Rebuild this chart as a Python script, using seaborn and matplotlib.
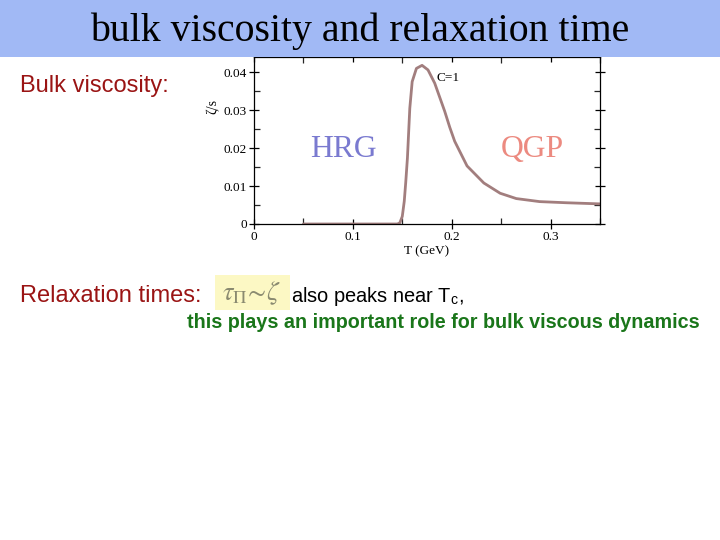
import matplotlib
matplotlib.use("Agg")
import matplotlib.pyplot as plt
from matplotlib.patches import Rectangle
from matplotlib.ticker import MultipleLocator, FixedFormatter, FixedLocator
import seaborn as sns
import pandas as pd

# ---- data ----
temperature = [0.05, 0.10, 0.145, 0.1475, 0.150, 0.152, 0.1535, 0.1552, 0.1576,
               0.160, 0.1643, 0.170, 0.176, 0.1828, 0.1929, 0.198, 0.203,
               0.2155, 0.2325, 0.249, 0.2653, 0.2889, 0.3158, 0.35]
zeta_over_s = [0.0, 0.0, 0.0, 0.0003, 0.002, 0.006, 0.011, 0.0174, 0.0305,
               0.0375, 0.0410, 0.0418, 0.0406, 0.0371, 0.0297, 0.0255, 0.0218,
               0.0153, 0.0108, 0.0081, 0.0067, 0.0059, 0.0056, 0.0053]
x_ticks = [0.0, 0.1, 0.2, 0.3]
x_tick_labels = ["0", "0.1", "0.2", "0.3"]
y_ticks = [0.0, 0.01, 0.02, 0.03, 0.04]
y_tick_labels = ["0", "0.01", "0.02", "0.03", "0.04"]

df = pd.DataFrame({"T": temperature, "zeta_s": zeta_over_s})

sns.set_theme(style="white")
plt.rcParams["font.family"] = ["Liberation Serif", "DejaVu Serif"]
plt.rcParams["mathtext.fontset"] = "stix"

fig = plt.figure(figsize=(7.2, 5.4), dpi=100)
W, H = 720, 540

# axes
ax_left, ax_right, ax_bottom, ax_top = 254, 600, 224, 57
ax = fig.add_axes([ax_left / W, 1 - ax_bottom / H, (ax_right - ax_left) / W,
                   (ax_bottom - ax_top) / H], zorder=1)
ax.patch.set_alpha(0)
sns.lineplot(data=df, x="T", y="zeta_s", ax=ax, color="#A27E7E", linewidth=2.0)
ax.set_xlim(0, 0.35)
ax.set_ylim(0, 0.044)
ax.xaxis.set_major_locator(FixedLocator(x_ticks))
ax.xaxis.set_major_formatter(FixedFormatter(x_tick_labels))
ax.yaxis.set_major_locator(FixedLocator(y_ticks))
ax.yaxis.set_major_formatter(FixedFormatter(y_tick_labels))
ax.xaxis.set_minor_locator(MultipleLocator(0.05))
ax.yaxis.set_minor_locator(MultipleLocator(0.005))
for sp in ax.spines.values():
    sp.set_color("black")
    sp.set_linewidth(0.9)
    sp.set_visible(True)
ax.tick_params(which="major", direction="inout", length=7, width=0.9,
               labelsize=9.5, colors="black", top=True, right=True,
               bottom=True, left=True, pad=1.5)
ax.tick_params(which="minor", direction="in", length=4, width=0.9,
               top=True, right=True, bottom=True, left=True)
ax.set_xlabel("T (GeV)", fontsize=9.5, labelpad=2, color="black")
ax.set_ylabel("")
ax.grid(False)
ax.text(-0.118, 0.705, "ζ/s", transform=ax.transAxes, rotation=90,
        ha="center", va="center", fontsize=10, color="black")
ax.text(0.185, 0.0385, "C=1", fontsize=9.5, color="black", ha="left", va="center")
ax.text(0.0905, 0.0195, "HRG", fontsize=22.8, color="#7A7AD0", ha="center", va="center")
ax.text(0.2815, 0.0195, "QGP", fontsize=22.8, color="#EC8A80", ha="center", va="center")

# title bar drawn above the axes so the top frame is hidden like in the slide
bar_ax = fig.add_axes([0, 1 - 57 / H, 1, 57 / H], zorder=5)
bar_ax.set_axis_off()
bar_ax.add_patch(Rectangle((0, 0), 1, 1, transform=bar_ax.transAxes,
                           facecolor="#A1B9F5", edgecolor="none"))
bar_ax.text(0.5, 0.46, "bulk viscosity and relaxation time",
            ha="center", va="center", fontsize=28.6, color="black",
            transform=bar_ax.transAxes,
            family=["Liberation Serif", "DejaVu Serif"])

sans = ["Liberation Sans", "DejaVu Sans"]
fig.text(20 / W, 1 - 86 / H, "Bulk viscosity:", ha="left", va="center",
         fontsize=17, color="#9A1414", family=sans)
fig.text(20 / W, 1 - 296 / H, "Relaxation times:", ha="left", va="center",
         fontsize=17, color="#9A1414", family=sans)
fig.patches.append(Rectangle((215 / W, 1 - 310 / H), 75 / W, 35 / H,
                             transform=fig.transFigure, facecolor="#FCF8C4",
                             edgecolor="none", zorder=0))
fig.text(252 / W, 1 - 293 / H, r"$\tau_{\Pi}\!\sim\!\zeta$", ha="center", va="center",
         fontsize=19, color="#8A8A70")
fig.text(291 / W, 1 - 296 / H, r"also peaks near T$_\mathregular{c}$,", ha="left",
         va="center", fontsize=14.4, color="black", family=sans)
fig.text(187 / W, 1 - 322 / H, "this plays an important role for bulk viscous dynamics",
         ha="left", va="center", fontsize=14.2, color="#1A761A", fontweight="bold",
         family=sans)

fig.savefig("out.png", dpi=100)
